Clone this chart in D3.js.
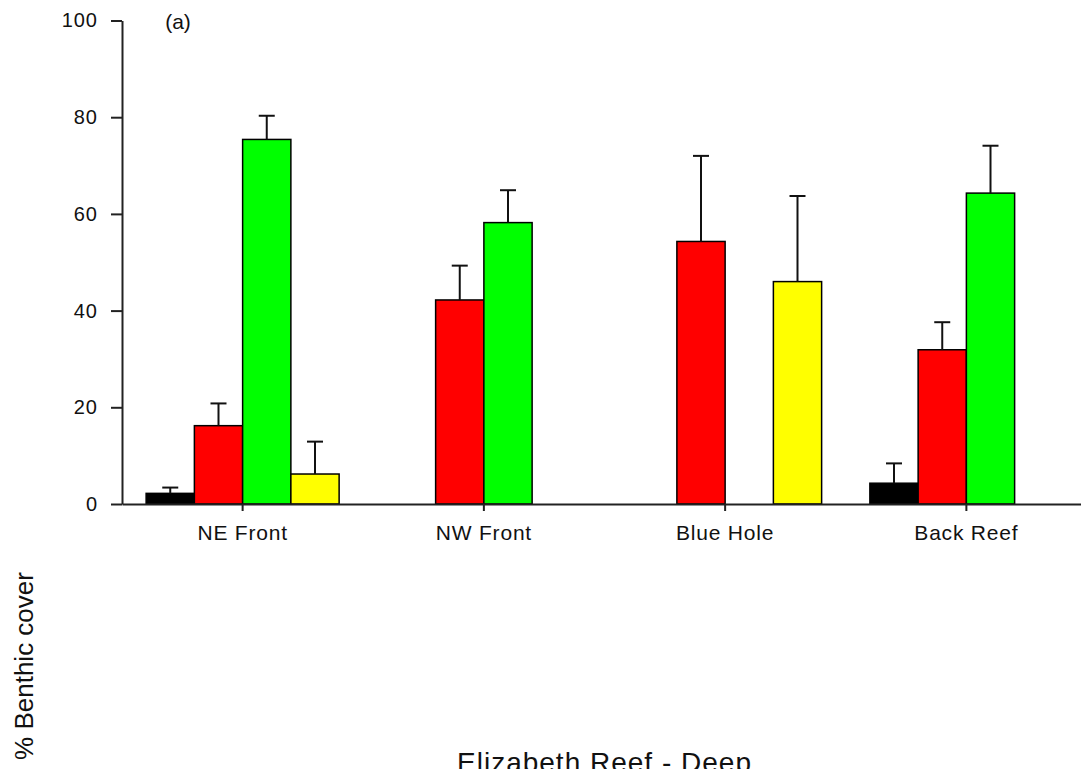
<!DOCTYPE html>
<html>
<head>
<meta charset="utf-8">
<script src="https://cdn.jsdelivr.net/npm/d3@7"></script>
<style>
  html, body { margin: 0; padding: 0; background: #fff; }
  svg { display: block; }
  text { font-family: "Liberation Sans", Arial, sans-serif; fill: #111; }
</style>
</head>
<body>
<svg id="chart" width="1081" height="769"></svg>
<script>
const categories = ["NE Front", "NW Front", "Blue Hole", "Back Reef"];
const seriesNames = ["Black", "Red", "Green", "Yellow"];
const seriesColors = ["#000000", "#ff0000", "#00ff00", "#ffff00"];
const blackValues  = [2.2, 0, 0, 4.3];
const blackErrors  = [1.2, 0, 0, 4.1];
const redValues    = [16.2, 42.2, 54.3, 31.9];
const redErrors    = [4.6, 7.1, 17.7, 5.7];
const greenValues  = [75.4, 58.2, 0, 64.3];
const greenErrors  = [4.9, 6.7, 0, 9.8];
const yellowValues = [6.2, 0, 46.0, 0];
const yellowErrors = [6.7, 0, 17.7, 0];
const yTicks = [0, 20, 40, 60, 80, 100];
const panelLabel = "(a)";
const yTitle = "% Benthic cover";
const xTitle = "Elizabeth Reef - Deep";

const values = [blackValues, redValues, greenValues, yellowValues];
const errors = [blackErrors, redErrors, greenErrors, yellowErrors];

const data = [];
categories.forEach((c, ci) => {
  seriesNames.forEach((s, si) => {
    data.push({ cat: c, series: s, color: seriesColors[si], v: values[si][ci], e: errors[si][ci] });
  });
});

const svg = d3.select("#chart");
const plotLeft = 122, plotRight = 1087, plotTop = 20.5, plotBottom = 504;

const y = d3.scaleLinear().domain([0, 100]).range([plotBottom, plotTop]);
const x0 = d3.scaleBand().domain(categories).range([plotLeft, plotRight]).paddingInner(0.2).paddingOuter(0.1);
const x1 = d3.scaleBand().domain(seriesNames).range([0, x0.bandwidth()]).padding(0);

// bars
const bars = svg.append("g");
bars.selectAll("rect").data(data.filter(d => d.v > 0)).join("rect")
  .attr("x", d => x0(d.cat) + x1(d.series))
  .attr("y", d => y(d.v))
  .attr("width", x1.bandwidth())
  .attr("height", d => y(0) - y(d.v))
  .attr("fill", d => d.color)
  .attr("stroke", "#000")
  .attr("stroke-width", 1.5);

// error bars (upper only)
const eb = svg.append("g").attr("stroke", "#111").attr("stroke-width", 2);
const withErr = data.filter(d => d.v > 0 && d.e > 0);
const cx = d => x0(d.cat) + x1(d.series) + x1.bandwidth() / 2;
eb.selectAll("line.v").data(withErr).join("line").attr("class", "v")
  .attr("x1", cx).attr("x2", cx)
  .attr("y1", d => y(d.v))
  .attr("y2", d => y(d.v + d.e));
eb.selectAll("line.c").data(withErr).join("line").attr("class", "c")
  .attr("x1", d => cx(d) - 8)
  .attr("x2", d => cx(d) + 8)
  .attr("y1", d => y(d.v + d.e))
  .attr("y2", d => y(d.v + d.e));

// axes
const yAxis = svg.append("g").attr("transform", `translate(${plotLeft},0)`)
  .call(d3.axisLeft(y).tickValues(yTicks).tickSize(11).tickSizeOuter(0).tickPadding(13));
const xAxis = svg.append("g").attr("transform", `translate(0,${plotBottom})`)
  .call(d3.axisBottom(x0).tickSize(7).tickSizeOuter(0).tickPadding(14));

[yAxis, xAxis].forEach(a => {
  a.selectAll("path.domain").attr("stroke", "#222").attr("stroke-width", 2);
  a.selectAll(".tick line").attr("stroke", "#222").attr("stroke-width", 2);
  a.selectAll(".tick text").attr("fill", "#111")
    .style("font-family", '"Liberation Sans", Arial, sans-serif');
});
yAxis.selectAll(".tick text").style("font-size", "20px").attr("letter-spacing", "1px");
xAxis.selectAll(".tick text").style("font-size", "21px").attr("letter-spacing", "0.8px");

// panel label
svg.append("text").attr("x", 178).attr("y", 29).attr("text-anchor", "middle")
  .style("font-size", "21px").text(panelLabel);

// y title
svg.append("text").attr("transform", "translate(33,666) rotate(-90)")
  .attr("text-anchor", "middle").style("font-size", "26px").text(yTitle);

// x title (partly below the bottom edge, as in the reference)
svg.append("text").attr("x", (plotLeft + plotRight) / 2).attr("y", 772).attr("text-anchor", "middle")
  .style("font-size", "28px").attr("letter-spacing", "1px").text(xTitle);
</script>
</body>
</html>
